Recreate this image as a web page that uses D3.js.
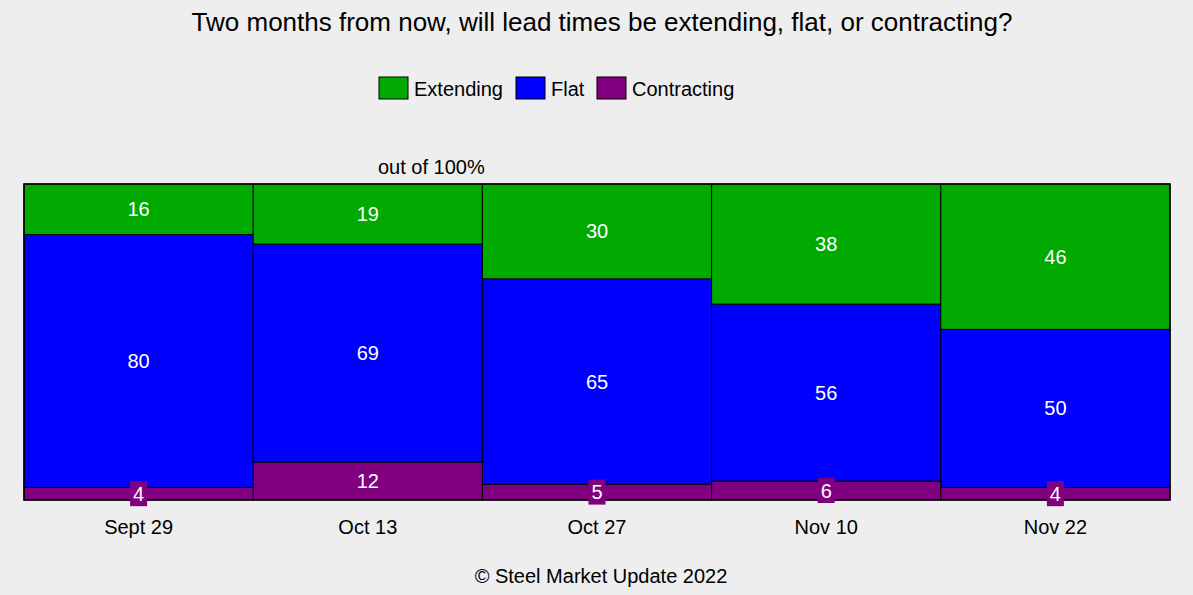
<!DOCTYPE html>
<html><head><meta charset="utf-8">
<script src="https://cdn.jsdelivr.net/npm/d3@7"></script>
<style>body{margin:0;background:#eeeeee;}svg{display:block;font-family:Arial,"Liberation Sans",sans-serif;}</style>
</head><body>
<svg id="c" width="1193" height="595"></svg>
<script>
const categories = ["Sept 29", "Oct 13", "Oct 27", "Nov 10", "Nov 22"];
const contracting = [4, 12, 5, 6, 4];
const flat = [80, 69, 65, 56, 50];
const extending = [16, 19, 30, 38, 46];
const seriesNames = ["Contracting", "Flat", "Extending"];
const legendOrder = ["Extending", "Flat", "Contracting"];
const colors = {Extending: "#00aa00", Flat: "#0000ff", Contracting: "#800080"};

const rows = categories.map((c, i) => ({cat: c, Contracting: contracting[i], Flat: flat[i], Extending: extending[i]}));
const svg = d3.select("#c");
svg.append("rect").attr("width", 1193).attr("height", 595).attr("fill", "#eeeeee");

const m = {l: 24, r: 1170, t: 184, b: 500};
const x = d3.scaleBand().domain(categories).range([m.l, m.r]).padding(0);
const y = d3.scaleLinear().domain([0, 100]).range([m.b, m.t]);

const stack = d3.stack().keys(seriesNames)(rows);

const g = svg.append("g");
stack.forEach(s => {
  g.selectAll(null).data(s).enter().append("rect")
    .attr("x", d => x(d.data.cat))
    .attr("width", x.bandwidth())
    .attr("y", d => y(d[1]))
    .attr("height", d => y(d[0]) - y(d[1]))
    .attr("fill", colors[s.key])
    .attr("stroke", "#000").attr("stroke-width", 1);
});
svg.append("rect").attr("x", m.l).attr("y", m.t).attr("width", m.r - m.l).attr("height", m.b - m.t)
  .attr("fill", "none").attr("stroke", "#000").attr("stroke-width", 1.5);

stack.forEach(s => {
  s.forEach(d => {
    const v = d[1] - d[0];
    const cx = x(d.data.cat) + x.bandwidth() / 2;
    const cy = (y(d[0]) + y(d[1])) / 2;
    const h = y(d[0]) - y(d[1]);
    const txt = String(v);
    if (h < 24) {
      const w = 6 + 11 * txt.length;
      svg.append("rect").attr("x", cx - w / 2).attr("y", cy - 12.5).attr("width", w).attr("height", 25)
        .attr("fill", colors[s.key]);
    }
    svg.append("text").attr("x", cx).attr("y", cy).attr("dy", "0.35em")
      .attr("text-anchor", "middle").attr("fill", "#fff").attr("font-size", 20).text(txt);
  });
});

const xa = svg.append("g").attr("transform", `translate(0,${m.b})`)
  .call(d3.axisBottom(x).tickSize(0).tickPadding(20));
xa.select(".domain").remove();
xa.selectAll("text").attr("font-size", 20).attr("fill", "#000").attr("font-family", "Arial, 'Liberation Sans', sans-serif");

svg.append("text").attr("x", 602).attr("y", 31).attr("text-anchor", "middle")
  .attr("font-size", 26).attr("fill", "#000").text("Two months from now, will lead times be extending, flat, or contracting?");

const legX = [379, 516, 597];
legendOrder.forEach((k, i) => {
  svg.append("rect").attr("x", legX[i]).attr("y", 77).attr("width", 29).attr("height", 22)
    .attr("fill", colors[k]).attr("stroke", "#000").attr("stroke-width", 1);
  svg.append("text").attr("x", legX[i] + 35).attr("y", 89).attr("dy", "0.35em")
    .attr("font-size", 20).attr("fill", "#000").text(k);
});

svg.append("text").attr("x", 378).attr("y", 174).attr("font-size", 20).attr("fill", "#000").text("out of 100%");
svg.append("text").attr("x", 601).attr("y", 583).attr("text-anchor", "middle").attr("font-size", 20)
  .attr("fill", "#000").text("© Steel Market Update 2022");
</script>
</body></html>
